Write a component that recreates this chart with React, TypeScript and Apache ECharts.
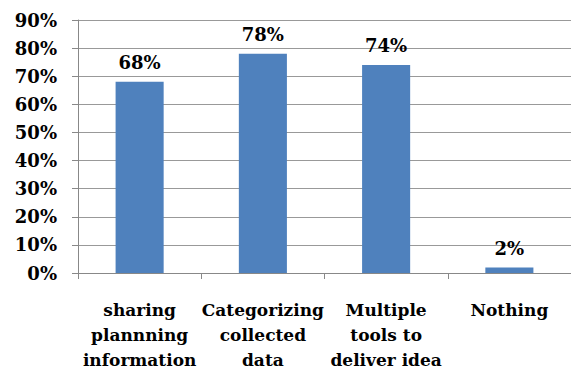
import React, { useEffect, useRef } from "react";
import * as echarts from "echarts";

const categories = [
  "sharing\nplannning\ninformation",
  "Categorizing\ncollected\ndata",
  "Multiple\ntools to\ndeliver idea",
  "Nothing",
];
const values = [68, 78, 74, 2];
const yMin = 0;
const yMax = 90;
const yInterval = 10;

const FONT = "DejaVu Serif";

export default function App() {
  const ref = useRef<HTMLDivElement>(null);
  useEffect(() => {
    if (!ref.current) return;
    const chart = echarts.init(ref.current, null, { renderer: "svg" });
    chart.setOption({
      animation: false,
      textStyle: { fontFamily: FONT },
      grid: { left: 78, right: -14, top: 20, bottom: 94, containLabel: false },
      xAxis: {
        type: "category",
        data: categories,
        axisLine: { show: true, lineStyle: { color: "#888888", width: 1 } },
        axisTick: { show: true, length: 6, alignWithLabel: false, lineStyle: { color: "#888888" } },
        axisLabel: {
          interval: 0,
          margin: 24,
          color: "#000",
          fontFamily: FONT,
          fontWeight: "bold",
          fontSize: 17,
          lineHeight: 25,
        },
      },
      yAxis: {
        type: "value",
        min: yMin,
        max: yMax,
        interval: yInterval,
        axisLine: { show: true, lineStyle: { color: "#888888", width: 1 } },
        axisTick: { show: true, length: 6, lineStyle: { color: "#888888" } },
        splitLine: { show: true, lineStyle: { color: "#999999", width: 1 } },
        axisLabel: {
          margin: 21,
          color: "#000",
          fontFamily: FONT,
          fontWeight: "bold",
          fontSize: 18,
          formatter: (v: number) => v + "%",
        },
      },
      series: [
        {
          type: "bar",
          data: values,
          barWidth: "39%",
          itemStyle: { color: "#4F81BD" },
          label: {
            show: true,
            position: "top",
            distance: 10,
            color: "#000",
            fontFamily: FONT,
            fontWeight: "bold",
            fontSize: 18,
            formatter: (p: any) => p.value + "%",
          },
        },
      ],
    });
    return () => chart.dispose();
  }, []);
  return <div ref={ref} style={{ width: 571, height: 372, position: "absolute", left: 0, top: 0 }} />;
}
